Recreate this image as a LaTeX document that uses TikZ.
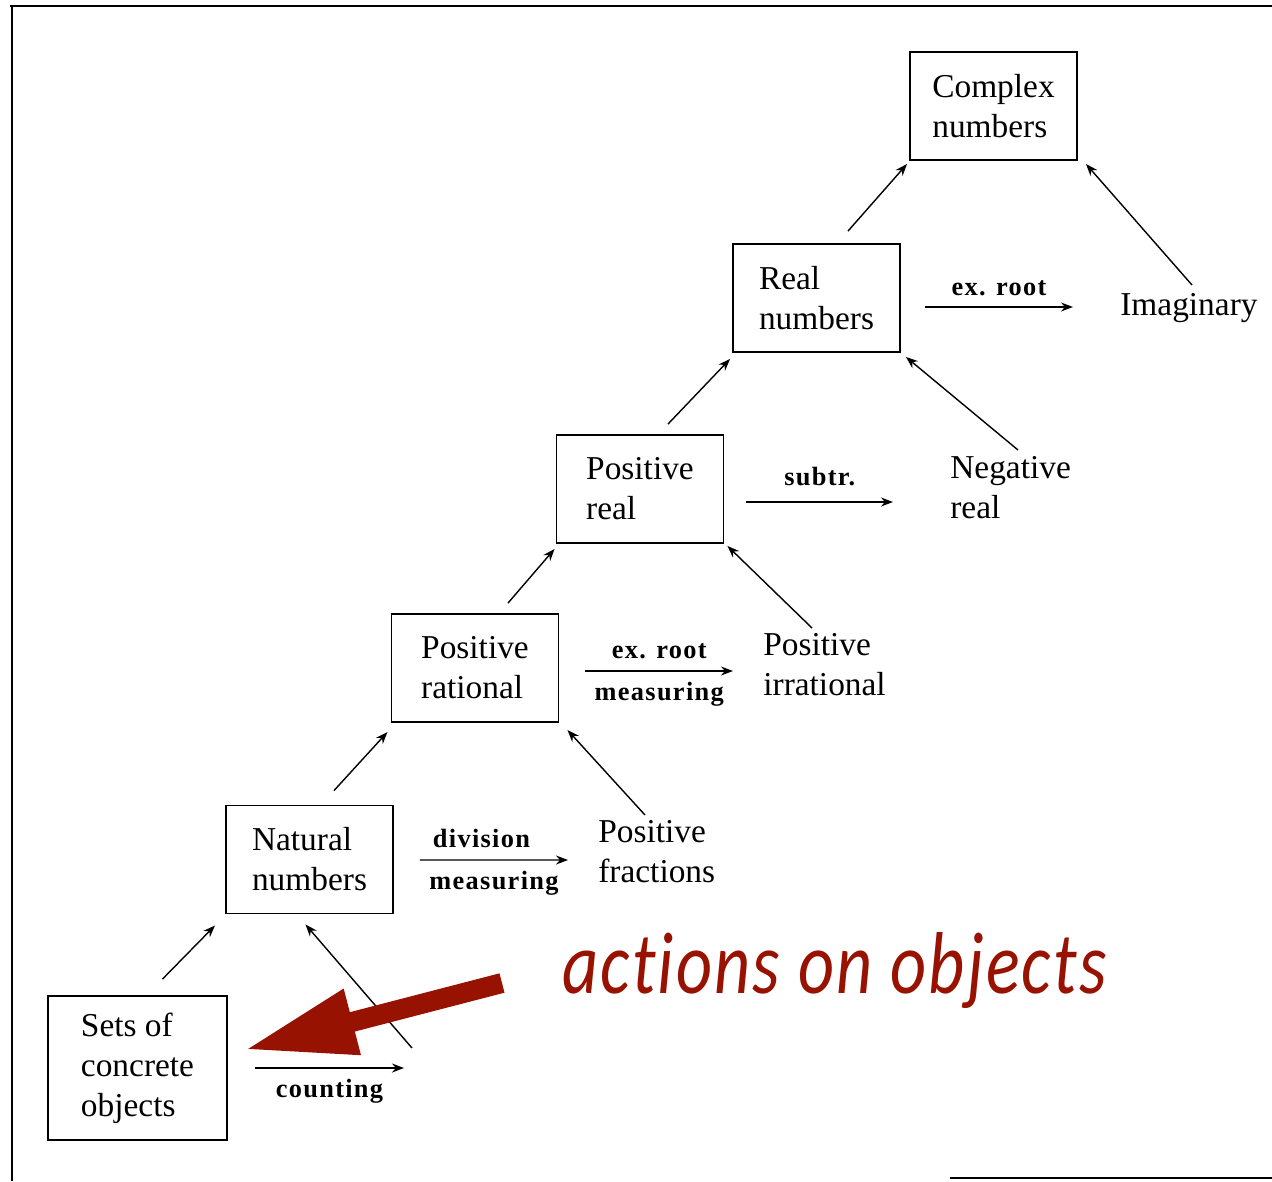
\documentclass[tikz,border=0pt]{standalone}
\usepackage{fontspec}
\setmainfont{Liberation Serif}
\newfontfamily\actfont[FakeStretch=0.8,Ligatures=NoCommon,LetterSpace=2.5]{Carlito}
\newfontfamily\opfont[LetterSpace=5]{Liberation Serif}
\usetikzlibrary{arrows.meta}
\definecolor{actred}{RGB}{152,18,2}
\tikzset{
    box/.style={draw,line width=1.1pt,align=left,minimum width=3.34cm,minimum height=2.16cm,inner sep=0pt,font=\fontsize{19}{22.7}\selectfont},
    numlbl/.style={anchor=north west,inner sep=0pt,align=left,font=\fontsize{19}{22.7}\selectfont},
    oplbl/.style={font=\opfont\bfseries\fontsize{15}{18}\selectfont,inner sep=2pt},
    arrow/.style={-{Stealth[length=2.4mm,width=1.8mm]},line width=0.8pt},
    bigarrow/.style={-{Triangle[length=2.24cm,width=1.25cm]},line width=0.4cm,draw=actred}
}
\begin{document}
\begin{tikzpicture}[x=0.02cm,y=-0.02cm]
    \useasboundingbox (0,0) rectangle (1272,1181);
    % frame of the scan
    \draw[line width=1.6pt] (10,6) -- (1272,6);
    \draw[line width=1.6pt] (12,6) -- (12,1181);
    \draw[line width=1.4pt] (950,1178) -- (1272,1178);

    % boxes
    \node[box] (cplx) at (993.5,106) {Complex\\numbers};
    \node[box] (real) at (816.5,298) {Real\\numbers};
    \node[box] (preal) at (640,489) {Positive\\real};
    \node[box] (prat) at (475,668) {Positive\\rational};
    \node[box] (nat) at (309.5,859.5) {Natural\\numbers};
    \node[box,minimum width=3.58cm,minimum height=2.88cm] (sets) at (137.5,1068) {Sets of\\concrete\\objects};

    % free labels
    \node[numlbl] (imag) at (1120,293) {Imaginary};
    \node[numlbl] (neg) at (950,456) {Negative\\real};
    \node[numlbl] (pirr) at (763,633) {Positive\\irrational};
    \node[numlbl] (pfrac) at (598,820) {Positive\\fractions};
    \coordinate (cnt) at (404,1068);

    % horizontal arrows
    \draw[arrow] ([shift={(24,9)}]real.east) -- ([shift={(-47,14)}]imag.north west)
        node[midway,above=4pt,oplbl] {ex. root};
    \draw[arrow] ([shift={(22,13)}]preal.east) -- ([shift={(-57,46)}]neg.north west)
        node[midway,above=7pt,oplbl] {subtr.};
    \draw[arrow] ([shift={(26,3)}]prat.east) -- ([shift={(-30,38)}]pirr.north west)
        node[midway,above=4.5pt,oplbl] {ex. root}
        node[midway,below=4pt,oplbl] {measuring};
    \draw[arrow] ([shift={(26,0.5)}]nat.east) -- ([shift={(-30,40)}]pfrac.north west)
        node[midway,above=4.5pt,oplbl,xshift=-0.25cm] {division}
        node[midway,below=4pt,oplbl] {measuring};
    \draw[arrow] ([shift={(27,0)}]sets.east) -- (cnt)
        node[midway,below=4pt,oplbl] {counting};

    % diagonal arrows
    \draw[arrow] ([shift={(25,-16)}]sets.north) -- ([shift={(-10,11)}]nat.south west);
    \draw[arrow] ([shift={(8,-20)}]cnt) -- ([shift={(-4,10)}]nat.south);
    \draw[arrow] ([shift={(24.5,-14)}]nat.north) -- ([shift={(-3,9)}]prat.south west);
    \draw[arrow] ([shift={(47,-5)}]pfrac.north west) -- ([shift={(8,7)}]prat.south east);
    \draw[arrow] ([shift={(33,-10)}]prat.north) -- ([shift={(-1,5)}]preal.south west);
    \draw[arrow] ([shift={(49,-5)}]pirr.north west) -- ([shift={(3,2)}]preal.south east);
    \draw[arrow] ([shift={(28,-10)}]preal.north) -- ([shift={(-2,6)}]real.south west);
    \draw[arrow] ([shift={(68,-6)}]neg.north west) -- ([shift={(5,4)}]real.south east);
    \draw[arrow] ([shift={(31.5,-12)}]real.north) -- ([shift={(-2,3)}]cplx.south west);
    \draw[arrow] ([shift={(72,-8)}]imag.north west) -- ([shift={(8,3)}]cplx.south east);

    % annotation
    \node[anchor=base west,inner sep=0pt,text=actred,font=\actfont\itshape\fontsize{50}{60}\selectfont] (act) at (562,993) {actions on objects};
    \draw[bigarrow] ([shift={(-60,-10)}]act.base west) -- ([shift={(16,-18)}]sets.east);
\end{tikzpicture}
\end{document}
